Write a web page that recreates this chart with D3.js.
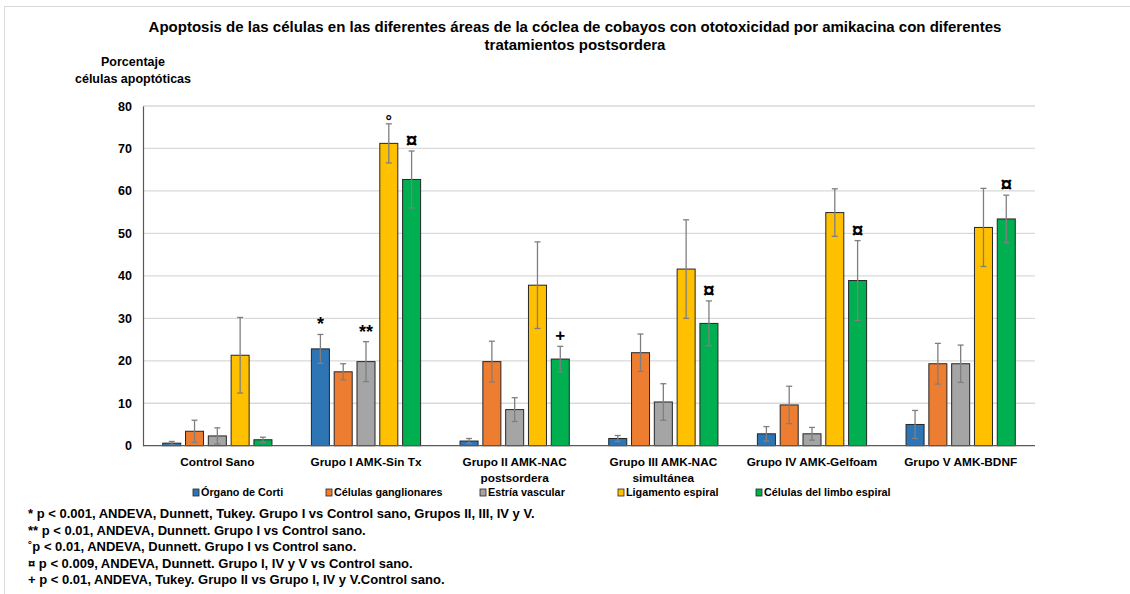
<!DOCTYPE html>
<html>
<head>
<meta charset="utf-8">
<script src="https://cdn.jsdelivr.net/npm/d3@7"></script>
<style>
  body { margin: 0; background: #fff; }
  svg { font-family: "Liberation Sans", Arial, sans-serif; }
</style>
</head>
<body>
<svg id="chart" width="1130" height="594"></svg>
<script>
// datos
let grupos = ["Control Sano", "Grupo I AMK-Sin Tx", "Grupo II AMK-NAC postsordera",
              "Grupo III AMK-NAC simultánea", "Grupo IV AMK-Gelfoam", "Grupo V AMK-BDNF"];
let etiquetas = [["Control Sano"], ["Grupo I AMK-Sin Tx"], ["Grupo II AMK-NAC", "postsordera"],
                 ["Grupo III AMK-NAC", "simultánea"], ["Grupo IV AMK-Gelfoam"], ["Grupo V AMK-BDNF"]];
let series = ["Órgano de Corti", "Células ganglionares", "Estría vascular", "Ligamento espiral", "Células del limbo espiral"];

let organoCorti   = [0.6, 22.8, 1.1, 1.7, 2.8, 5.0];
let ganglionares  = [3.4, 17.4, 19.8, 21.9, 9.6, 19.3];
let estria        = [2.3, 19.8, 8.5, 10.3, 2.8, 19.3];
let ligamento     = [21.3, 71.2, 37.8, 41.6, 54.9, 51.4];
let limbo         = [1.4, 62.7, 20.4, 28.8, 38.9, 53.4];

let errCorti      = [0.4, 3.4, 0.6, 0.7, 1.7, 3.3];
let errGanglion   = [2.6, 1.9, 4.8, 4.4, 4.4, 4.8];
let errEstria     = [1.9, 4.7, 2.8, 4.3, 1.5, 4.4];
let errLigamento  = [8.9, 4.6, 10.2, 11.6, 5.6, 9.2];
let errLimbo      = [0.6, 6.7, 3.0, 5.3, 9.4, 5.6];

let valores = [organoCorti, ganglionares, estria, ligamento, limbo];
let errores = [errCorti, errGanglion, errEstria, errLigamento, errLimbo];

// marcas de significancia: [grupo, serie, simbolo]
let marcas = [[1, 0, "*"], [1, 2, "**"], [1, 3, "°"], [1, 4, "¤"],
              [2, 4, "+"], [3, 4, "¤"], [4, 4, "¤"], [5, 4, "¤"]];

let ticksY = [0, 10, 20, 30, 40, 50, 60, 70, 80];

let notas = ["* p < 0.001, ANDEVA, Dunnett, Tukey. Grupo I vs Control sano, Grupos II, III, IV y V.",
             "** p < 0.01, ANDEVA, Dunnett. Grupo I vs Control sano.",
             "˚p < 0.01, ANDEVA, Dunnett. Grupo I vs Control sano.",
             "¤ p < 0.009, ANDEVA, Dunnett. Grupo I, IV y V vs Control sano.",
             "+ p < 0.01, ANDEVA, Tukey. Grupo II vs Grupo I, IV y V.Control sano."];

let colores = ["#2E75B6", "#ED7D31", "#A5A5A5", "#FFC000", "#00B050"];

let svg = d3.select("#chart");

// marco
svg.append("rect").attr("x", 4.5).attr("y", 6.5).attr("width", 1140).attr("height", 600)
    .attr("fill", "none").attr("stroke", "#d9d9d9");

let mIzq = 143, mDer = 1035, mSup = 106, mInf = 445.7;

let x0 = d3.scaleBand().domain(grupos).range([mIzq, mDer]);
let x1 = d3.scaleBand().domain(series).range([0, x0.bandwidth()])
    .paddingInner(0.21).paddingOuter(0.865);
let y = d3.scaleLinear().domain([0, 80]).range([mInf, mSup]);

// titulo
svg.append("text").attr("x", 575).attr("y", 32).attr("text-anchor", "middle")
    .attr("font-size", "15px").attr("font-weight", "bold")
    .text("Apoptosis de las células en las diferentes áreas de la cóclea de cobayos con ototoxicidad por amikacina con diferentes");
svg.append("text").attr("x", 575).attr("y", 50).attr("text-anchor", "middle")
    .attr("font-size", "15px").attr("font-weight", "bold")
    .text("tratamientos postsordera");

svg.append("text").attr("x", 133).attr("y", 66).attr("text-anchor", "middle")
    .attr("font-size", "12.5px").attr("font-weight", "bold").text("Porcentaje");
svg.append("text").attr("x", 133).attr("y", 83).attr("text-anchor", "middle")
    .attr("font-size", "12.5px").attr("font-weight", "bold").text("células apoptóticas");

// rejilla
svg.append("g").selectAll("line").data(ticksY.filter(d => d > 0)).enter()
    .append("line")
    .attr("x1", mIzq).attr("x2", mDer)
    .attr("y1", d => y(d)).attr("y2", d => y(d))
    .attr("stroke", "#d9d9d9").attr("stroke-width", 1.3);

// eje y
let ejeY = svg.append("g").attr("transform", `translate(${mIzq},0)`)
    .call(d3.axisLeft(y).tickValues(ticksY).tickSize(0).tickPadding(11));
ejeY.select(".domain").attr("stroke", "#595959").attr("stroke-width", 1.2);
ejeY.selectAll("text").attr("font-size", "12.5px").attr("font-weight", "bold")
    .attr("fill", "#000").attr("font-family", "Liberation Sans, Arial, sans-serif");

// barras
let filas = [];
grupos.forEach((g, i) => {
    series.forEach((s, j) => {
        filas.push({grupo: g, gi: i, serie: s, si: j, v: valores[j][i], e: errores[j][i]});
    });
});

svg.append("g").selectAll("rect").data(filas).enter()
    .append("rect")
    .attr("x", d => x0(d.grupo) + x1(d.serie))
    .attr("y", d => y(d.v))
    .attr("width", x1.bandwidth())
    .attr("height", d => y(0) - y(d.v))
    .attr("fill", d => colores[d.si])
    .attr("stroke", "#262626").attr("stroke-width", 1);

// barras de error
let eb = svg.append("g").selectAll("g").data(filas).enter().append("g")
    .attr("stroke", "#7f7f7f").attr("stroke-width", 1.3);
let cx = d => x0(d.grupo) + x1(d.serie) + x1.bandwidth() / 2;
eb.append("line").attr("x1", cx).attr("x2", cx)
    .attr("y1", d => y(d.v + d.e)).attr("y2", d => y(Math.max(0, d.v - d.e)));
eb.append("line").attr("x1", d => cx(d) - 3).attr("x2", d => cx(d) + 3)
    .attr("y1", d => y(d.v + d.e)).attr("y2", d => y(d.v + d.e));
eb.append("line").attr("x1", d => cx(d) - 3).attr("x2", d => cx(d) + 3)
    .attr("y1", d => y(Math.max(0, d.v - d.e))).attr("y2", d => y(Math.max(0, d.v - d.e)));

// eje x
svg.append("line").attr("x1", mIzq).attr("x2", mDer).attr("y1", y(0)).attr("y2", y(0))
    .attr("stroke", "#595959").attr("stroke-width", 1.3);

// marcas de significancia
let desp = {"*": -4, "**": -4, "°": 3, "¤": -4, "+": -5};
let tam = {"*": "18px", "**": "18px", "°": "16px", "¤": "21px", "+": "17px"};
svg.append("g").selectAll("text").data(marcas).enter()
    .append("text")
    .attr("x", d => x0(grupos[d[0]]) + x1(series[d[1]]) + x1.bandwidth() / 2)
    .attr("y", d => y(valores[d[1]][d[0]] + errores[d[1]][d[0]]) + desp[d[2]])
    .attr("text-anchor", "middle")
    .attr("font-size", d => tam[d[2]])
    .attr("font-weight", "bold")
    .text(d => d[2]);

// etiquetas de categorias
let cat = svg.append("g").selectAll("text").data(etiquetas).enter()
    .append("text")
    .attr("x", (d, i) => x0(grupos[i]) + x0.bandwidth() / 2)
    .attr("y", 466)
    .attr("text-anchor", "middle")
    .attr("font-size", "11.8px").attr("font-weight", "bold");
cat.selectAll("tspan").data(d => d).enter().append("tspan")
    .attr("x", function() { return d3.select(this.parentNode).attr("x"); })
    .attr("dy", (d, i) => i == 0 ? 0 : 16)
    .text(d => d);

// leyenda
let posLeyenda = [193, 326, 480, 618, 756];
let ley = svg.append("g").selectAll("g").data(series).enter().append("g")
    .attr("transform", (d, i) => `translate(${posLeyenda[i]},496)`);
ley.append("rect").attr("x", 0).attr("y", -7).attr("width", 6).attr("height", 7)
    .attr("fill", (d, i) => colores[i]).attr("stroke", "#262626").attr("stroke-width", 0.8);
ley.append("text").attr("x", 8).attr("y", 0).attr("font-size", "10.8px").attr("font-weight", "bold")
    .text(d => d);

// notas
svg.append("g").selectAll("text").data(notas).enter()
    .append("text")
    .attr("x", 28).attr("y", (d, i) => 518 + i * 16.6)
    .attr("font-size", "13px").attr("font-weight", "bold")
    .text(d => d);
</script>
</body>
</html>
